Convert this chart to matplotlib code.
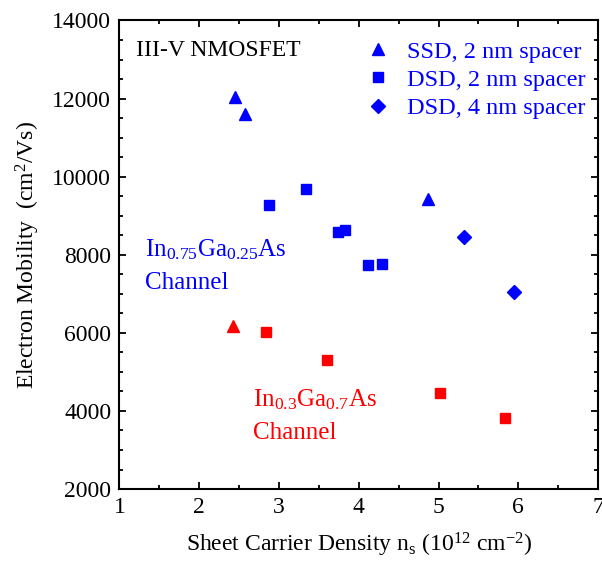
import numpy as np
import matplotlib
matplotlib.use('Agg')
import matplotlib.pyplot as plt
from matplotlib.ticker import MultipleLocator

# 字体设置
plt.rcParams['font.family'] = ['Liberation Serif', 'DejaVu Serif']
plt.rcParams['mathtext.fontset'] = 'custom'
plt.rcParams['mathtext.rm'] = 'Liberation Serif'
plt.rcParams['mathtext.it'] = 'Liberation Serif:italic'
plt.rcParams['font.size'] = 17

# In0.75Ga0.25As 沟道数据
ssd2_x = [2.45, 2.57, 4.87]
ssd2_y = [12040, 11600, 9420]
dsd2_x = [2.88, 3.34, 3.74, 3.83, 4.12, 4.29]
dsd2_y = [9280, 9690, 8580, 8640, 7740, 7770]
dsd4_x = [5.32, 5.95]
dsd4_y = [8460, 7040]

# In0.3Ga0.7As 沟道数据
red_tri_x = [2.42]
red_tri_y = [6170]
red_sq_x = [2.84, 3.60, 5.02, 5.83]
red_sq_y = [6010, 5300, 4450, 3830]

fig = plt.figure(figsize=(6.02, 5.61), dpi=100)
ax = fig.add_axes([0.1985, 0.1283, 0.7949, 0.8352])

ax.plot(ssd2_x, ssd2_y, '^', color='blue', ms=9, linestyle='none', label='SSD, 2 nm spacer')
ax.plot(dsd2_x, dsd2_y, 's', color='blue', ms=7, linestyle='none', label='DSD, 2 nm spacer')
ax.plot(dsd4_x, dsd4_y, 'D', color='blue', ms=7, linestyle='none', label='DSD, 4 nm spacer')
ax.plot(red_tri_x, red_tri_y, '^', color='red', ms=9, linestyle='none')
ax.plot(red_sq_x, red_sq_y, 's', color='red', ms=7, linestyle='none')

ax.set_xlim(1, 7)
ax.set_ylim(2000, 14000)
ax.xaxis.set_major_locator(MultipleLocator(1))
ax.xaxis.set_minor_locator(MultipleLocator(0.5))
ax.yaxis.set_major_locator(MultipleLocator(2000))
ax.yaxis.set_minor_locator(MultipleLocator(500))
ax.tick_params(which='both', direction='in', top=True, right=True, width=1.3)
ax.tick_params(which='major', length=5, pad=6, labelsize=17)
ax.tick_params(which='minor', length=3)
for sp in ax.spines.values():
    sp.set_linewidth(1.5)

ax.set_xlabel('Sheet Carrier Density n$_\\mathrm{s}$ (10$^{12}$ cm$^{-2}$)', fontsize=17, labelpad=9)
ax.set_ylabel('Electron Mobility  (cm$^2$/Vs)', fontsize=17, labelpad=7)

ax.text(0.035, 0.935, 'III-V NMOSFET', transform=ax.transAxes, fontsize=17, va='center')

# 沟道标注
ax.text(1.32, 8120, 'In$_{0.75}$Ga$_{0.25}$As', color='blue', fontsize=18, va='center')
ax.text(1.32, 7280, 'Channel', color='blue', fontsize=18, va='center')
ax.text(2.67, 4280, 'In$_{0.3}$Ga$_{0.7}$As', color='red', fontsize=18, va='center')
ax.text(2.67, 3440, 'Channel', color='red', fontsize=18, va='center')

ax.legend(loc='upper right', bbox_to_anchor=(1.012, 0.996), frameon=False, labelcolor='blue',
          fontsize=17.5, handletextpad=0.6, borderaxespad=0.45, labelspacing=0.26,
          handlelength=1.2, borderpad=0.3)

fig.savefig('out.png', dpi=100)
